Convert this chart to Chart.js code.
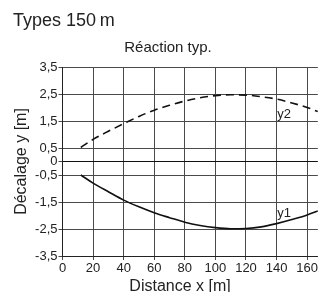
<!DOCTYPE html>
<html>
<head>
<meta charset="utf-8">
<script src="https://cdn.jsdelivr.net/npm/chart.js@4.4.0/dist/chart.umd.min.js"></script>
<style>
  html, body { margin: 0; padding: 0; background: #fff; }
  #wrap { width: 319px; height: 292px; position: relative; }
</style>
</head>
<body>
<div id="wrap"><canvas id="chart"></canvas></div>
<script>
// data
const distances = [12, 20, 30, 40, 50, 60, 70, 80, 90, 100, 110, 120, 130, 140, 150, 160, 167];
const y1Values = [-0.5, -0.8, -1.12, -1.43, -1.68, -1.9, -2.08, -2.25, -2.37, -2.45, -2.49, -2.48, -2.42, -2.3, -2.15, -1.98, -1.83];
const y2Values = [0.52, 0.82, 1.12, 1.4, 1.67, 1.9, 2.08, 2.24, 2.36, 2.44, 2.47, 2.46, 2.4, 2.31, 2.17, 2.0, 1.85];
const xTickValues = [0, 20, 40, 60, 80, 100, 120, 140, 160];
const yTickValues = [3.5, 2.5, 1.5, 0.5, 0, -0.5, -1.5, -2.5, -3.5];
const seriesLabels = ['y1', 'y2'];

const FONT = "'Liberation Sans', Arial, sans-serif";
const INK = '#222';
const GRID = '#4a4a4a';

function points(values) {
    return distances.map((x, i) => ({ x: x, y: values[i] }));
}

// headings, x title and the y1 / y2 tags
const textPlugin = {
    id: 'texts',
    afterDraw(chart) {
        const ctx = chart.ctx;
        const xs = chart.scales.x;
        const ys = chart.scales.y;
        ctx.save();
        ctx.fillStyle = INK;
        ctx.textBaseline = 'alphabetic';

        ctx.font = '18px ' + FONT;
        ctx.textAlign = 'left';
        ctx.fillText('Types 150\u2009m', 13, 26);

        ctx.font = '15px ' + FONT;
        ctx.textAlign = 'center';
        ctx.fillText('Réaction typ.', 168, 52);

        ctx.font = '16px ' + FONT;
        ctx.fillText('Distance x [m]', 180, 291);

        // series tags
        ctx.font = '13px ' + FONT;
        ctx.textBaseline = 'middle';
        ctx.fillText(seriesLabels[1], xs.getPixelForValue(145), ys.getPixelForValue(1.75));
        ctx.fillText(seriesLabels[0], xs.getPixelForValue(145), ys.getPixelForValue(-1.93));
        ctx.restore();
    }
};

new Chart(document.getElementById('chart'), {
    type: 'line',
    plugins: [textPlugin],
    data: {
        datasets: [
            {
                label: seriesLabels[1],
                data: points(y2Values),
                borderColor: '#111',
                borderWidth: 1.6,
                borderDash: [8, 5],
                pointRadius: 0,
                cubicInterpolationMode: 'monotone',
                fill: false
            },
            {
                label: seriesLabels[0],
                data: points(y1Values),
                borderColor: '#111',
                borderWidth: 1.6,
                pointRadius: 0,
                cubicInterpolationMode: 'monotone',
                fill: false
            }
        ]
    },
    options: {
        responsive: true,
        maintainAspectRatio: false,
        animation: false,
        layout: { padding: { top: 67, right: 0, bottom: 0, left: 0 } },
        plugins: {
            legend: { display: false },
            tooltip: { enabled: false }
        },
        scales: {
            x: {
                type: 'linear',
                min: 0,
                max: 167,
                afterBuildTicks: (scale) => { scale.ticks = xTickValues.map(v => ({ value: v })); },
                afterFit: (scale) => { scale.height = 36; },
                grid: { color: GRID, lineWidth: 1, tickLength: 4, tickColor: GRID },
                border: { color: '#222', width: 1 },
                ticks: {
                    color: INK,
                    font: { family: FONT, size: 13 },
                    padding: 1,
                    maxRotation: 0,
                    autoSkip: false
                }
            },
            y: {
                type: 'linear',
                min: -3.5,
                max: 3.5,
                afterBuildTicks: (scale) => { scale.ticks = yTickValues.map(v => ({ value: v })); },
                afterFit: (scale) => { scale.width = 62.5; },
                grid: {
                    color: (c) => c.tick && c.tick.value === 0 ? '#111' : GRID,
                    lineWidth: 1,
                    tickLength: 4,
                    tickColor: GRID
                },
                border: { color: '#222', width: 1 },
                title: {
                    display: true,
                    text: 'Décalage y [m]',
                    color: INK,
                    font: { family: FONT, size: 16 },
                    padding: { top: 12, bottom: 0 }
                },
                ticks: {
                    color: INK,
                    font: { family: FONT, size: 13 },
                    padding: 1,
                    autoSkip: false,
                    callback: (v) => String(v).replace('.', ',')
                }
            }
        }
    }
});
</script>
</body>
</html>
